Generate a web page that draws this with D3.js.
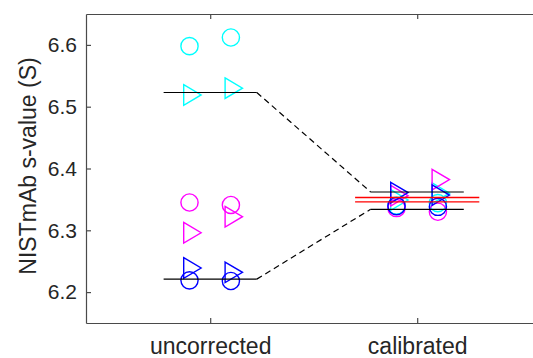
<!DOCTYPE html>
<html>
<head>
<meta charset="utf-8">
<script src="https://cdn.jsdelivr.net/npm/d3@7"></script>
<style>
  body { margin: 0; background: #fff; }
  svg { display: block; font-family: "Liberation Sans", Arial, sans-serif; }
</style>
</head>
<body>
<svg id="chart" width="533" height="358"></svg>
<script>
// categories on the x axis
const categories = ["uncorrected", "calibrated"];
// two replicates per category, offset left/right of the category
const replicateOffsets = [-0.1, 0.1];

// series values: [uncorrected rep1, rep2], [calibrated rep1, rep2]
const cyanCircle = [[6.598, 6.612], [6.340, 6.344]];
const cyanTriangle = [[6.519, 6.530], [6.349, 6.360]];
const magentaCircle = [[6.345, 6.341], [6.336, 6.330]];
const magentaTriangle = [[6.296, 6.322], [6.356, 6.382]];
const blueCircle = [[6.219, 6.218], [6.339, 6.338]];
const blueTriangle = [[6.239, 6.232], [6.361, 6.357]];

// group means (black) per category: [upper, lower]
const meanUpper = [6.523, 6.362];
const meanLower = [6.221, 6.334];
// reference band (red) at calibrated
const redLines = [6.353, 6.346];

const yTicks = [6.2, 6.3, 6.4, 6.5, 6.6];

const series = [
  { values: cyanCircle, color: "#00ffff", marker: "circle" },
  { values: cyanTriangle, color: "#00ffff", marker: "triangle" },
  { values: magentaCircle, color: "#ff00ff", marker: "circle" },
  { values: magentaTriangle, color: "#ff00ff", marker: "triangle" },
  { values: blueCircle, color: "#0000ff", marker: "circle" },
  { values: blueTriangle, color: "#0000ff", marker: "triangle" }
];

const svg = d3.select("#chart");
const margin = { top: 14, right: -8.4, bottom: 35, left: 86 };
const W = 533, H = 358;

const x = d3.scalePoint()
  .domain(categories)
  .range([margin.left, W - margin.right])
  .padding(0.6);
const step = x.step();
const xv = (cat, off) => x(cat) + off * step;

const y = d3.scaleLinear()
  .domain([6.15, 6.65])
  .range([H - margin.bottom, margin.top]);

const axisColor = "#4a4a4a";
const textColor = "#262626";

// Axes
const gx = svg.append("g")
  .attr("transform", `translate(0,${H - margin.bottom})`)
  .call(d3.axisBottom(x).tickSizeInner(-5).tickSizeOuter(0).tickPadding(15));
gx.selectAll("text").style("font-size", "23px").attr("fill", textColor);

const gxTop = svg.append("g")
  .attr("transform", `translate(0,${margin.top})`)
  .call(d3.axisTop(x).tickSizeInner(-5).tickSizeOuter(0).tickFormat(""));

const gy = svg.append("g")
  .attr("transform", `translate(${margin.left},0)`)
  .call(d3.axisLeft(y).tickValues(yTicks).tickFormat(d3.format(".1f"))
    .tickSizeInner(-5).tickSizeOuter(0).tickPadding(9));
gy.selectAll("text").style("font-size", "21px").attr("fill", textColor);

svg.selectAll(".domain, .tick line").attr("stroke", axisColor).attr("stroke-width", 1.2);

// Y label
svg.append("text")
  .attr("transform", `translate(35.5,166) rotate(-90)`)
  .attr("text-anchor", "middle")
  .attr("fill", textColor)
  .style("font-size", "23px")
  .text("NISTmAb s-value (S)");

const plot = svg.append("g");

// Markers
const tri = "M-5.8,-10.3L11.6,0L-5.8,10.3Z";
series.forEach(s => {
  s.values.forEach((vals, ci) => {
    vals.forEach((v, ri) => {
      const cx = xv(categories[ci], replicateOffsets[ri]);
      const cy = y(v);
      if (s.marker === "circle") {
        plot.append("circle")
          .attr("cx", cx).attr("cy", cy).attr("r", 8.6)
          .attr("fill", "none").attr("stroke", s.color).attr("stroke-width", 1.4);
      } else {
        plot.append("path")
          .attr("d", tri)
          .attr("transform", `translate(${cx},${cy})`)
          .attr("fill", "none").attr("stroke", s.color).attr("stroke-width", 1.4);
      }
    });
  });
});

// Mean lines (black) and connectors
const halfMean = 0.225;
[meanUpper, meanLower].forEach(m => {
  categories.forEach((c, ci) => {
    plot.append("line")
      .attr("x1", xv(c, -halfMean)).attr("x2", xv(c, halfMean))
      .attr("y1", y(m[ci])).attr("y2", y(m[ci]))
      .attr("stroke", "#000").attr("stroke-width", 1.2);
  });
  plot.append("line")
    .attr("x1", xv(categories[0], halfMean)).attr("x2", xv(categories[1], -halfMean))
    .attr("y1", y(m[0])).attr("y2", y(m[1]))
    .attr("stroke", "#000").attr("stroke-width", 1.2)
    .attr("stroke-dasharray", "6,4");
});

// Red reference lines at calibrated
redLines.forEach(v => {
  plot.append("line")
    .attr("x1", xv(categories[1], -0.3)).attr("x2", xv(categories[1], 0.3))
    .attr("y1", y(v)).attr("y2", y(v))
    .attr("stroke", "#ff0000").attr("stroke-width", 1.4);
});
</script>
</body>
</html>
